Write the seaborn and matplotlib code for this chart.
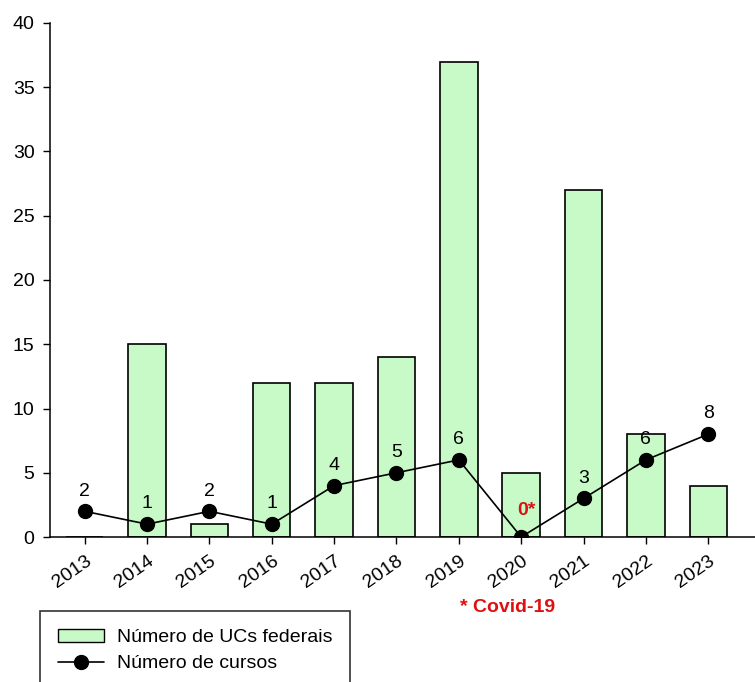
import pandas as pd
import matplotlib
matplotlib.use('Agg')
import matplotlib.pyplot as plt
import seaborn as sns
from matplotlib.patches import Patch
from matplotlib.lines import Line2D

# dados do gráfico
anos = ['2013', '2014', '2015', '2016', '2017', '2018', '2019', '2020', '2021', '2022', '2023']
ucs_federais = [0, 15, 1, 12, 12, 14, 37, 5, 27, 8, 4]
cursos = [2, 1, 2, 1, 4, 5, 6, 0, 3, 6, 8]
rotulos_cursos = ['2', '1', '2', '1', '4', '5', '6', '0*', '3', '6', '8']
y_ticks = [0, 5, 10, 15, 20, 25, 30, 35, 40]

verde = '#c8fac8'
vermelho = '#dd1111'

df = pd.DataFrame({'Ano': anos, 'UCs': ucs_federais, 'Cursos': cursos})

sns.set_style('ticks')
plt.rcParams['font.family'] = ['Liberation Sans', 'DejaVu Sans']
plt.rcParams['text.color'] = 'black'
plt.rcParams['xtick.color'] = 'black'
plt.rcParams['ytick.color'] = 'black'

fs = 14

fig = plt.figure(figsize=(7.55, 6.82), dpi=100)
ax = fig.add_axes([0.066, 0.2126, 0.934, 0.7537])

sns.barplot(data=df, x='Ano', y='UCs', color=verde, edgecolor='black',
            linewidth=1.2, width=0.6, saturation=1, ax=ax)
ax.plot(range(len(anos)), cursos, color='black', linewidth=1.2,
        marker='o', markersize=10, zorder=5)

# rótulos dos pontos
for i, (v, r) in enumerate(zip(cursos, rotulos_cursos)):
    if r == '0*':
        ax.annotate(r, (i, v), xytext=(4, 13), textcoords='offset points',
                    ha='center', va='bottom', fontsize=fs, color=vermelho,
                    fontweight='bold')
    else:
        ax.annotate(r, (i, v), xytext=(0, 8.5), textcoords='offset points',
                    ha='center', va='bottom', fontsize=fs, color='black')

ax.set_ylim(0, 40)
ax.set_yticks(y_ticks)
ax.set_xlim(-0.56, 10.75)
ax.set_xlabel('')
ax.set_ylabel('')
ax.tick_params(axis='both', labelsize=fs, length=5, width=1, direction='out',
               colors='black')
ax.tick_params(axis='y', pad=6)
ax.tick_params(axis='x', pad=6)
plt.setp(ax.get_xticklabels(), rotation=35, ha='right', rotation_mode='anchor')
sns.despine(ax=ax)
for s in ['left', 'bottom']:
    ax.spines[s].set_linewidth(1.1)
    ax.spines[s].set_color('black')

fig.text(508 / 755, 1 - 608 / 682, '* Covid-19', color=vermelho, fontsize=fs,
         fontweight='bold', ha='center', va='center')

handles = [Patch(facecolor=verde, edgecolor='black', linewidth=1),
           Line2D([], [], color='black', marker='o', markersize=10, linewidth=1.2)]
labels = ['Número de UCs federais', 'Número de cursos']
leg = fig.legend(handles, labels, loc='upper left', bbox_to_anchor=(40 / 755, 1 - 611 / 682),
                 fontsize=fs, frameon=True, fancybox=False, edgecolor='black',
                 handlelength=2.4, handletextpad=0.65, borderpad=0.9, labelspacing=0.45,
                 borderaxespad=0)
leg.get_frame().set_linewidth(1.2)
for t in leg.get_texts():
    t.set_color('black')

fig.savefig('out.png', dpi=100)
